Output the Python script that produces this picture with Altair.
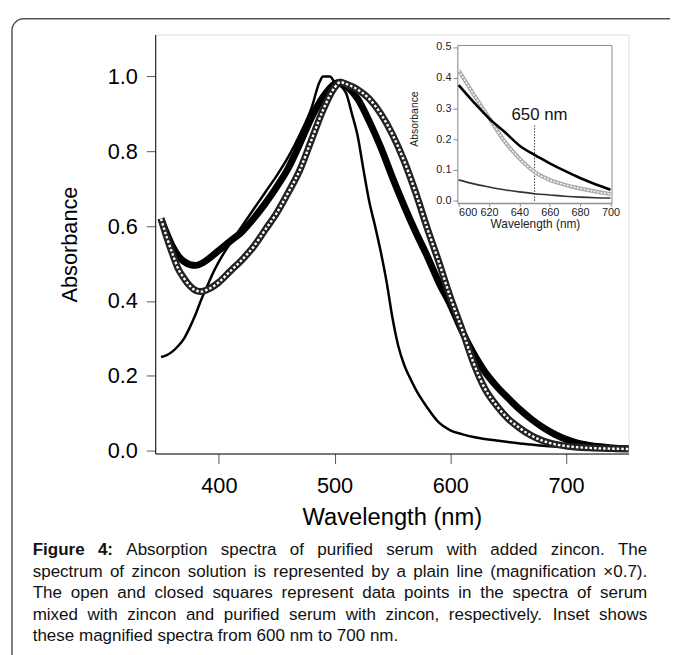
import altair as alt
import pandas as pd

# ---------------- main spectra ----------------
plain_wl = [350, 355, 360, 365, 370, 375, 380, 385, 390, 395, 400, 410, 420, 430, 440, 450, 460, 470, 480, 487,
            490, 496, 500, 505, 510, 515, 520, 525, 530, 535, 540, 545, 550, 555, 560, 565, 570, 580, 590, 600,
            610, 620, 630, 640, 650, 660, 670, 680, 690, 700, 720, 740, 754]
plain_abs = [0.25, 0.255, 0.265, 0.28, 0.30, 0.33, 0.365, 0.405, 0.44, 0.475, 0.505, 0.555, 0.60, 0.645, 0.69, 0.735,
             0.785, 0.845, 0.915, 0.985, 1.0, 1.0, 0.985, 0.975, 0.955, 0.90, 0.84, 0.75, 0.665, 0.60, 0.53, 0.45,
             0.355, 0.28, 0.23, 0.195, 0.164, 0.115, 0.075, 0.054, 0.044, 0.036, 0.031, 0.027, 0.023, 0.019, 0.016,
             0.013, 0.011, 0.01, 0.007, 0.005, 0.005]

closed_wl = [350, 355, 360, 365, 370, 375, 380, 385, 390, 400, 410, 420, 430, 440, 450, 460, 470, 480, 490, 500,
             505, 510, 520, 530, 540, 550, 560, 570, 580, 590, 600, 610, 620, 630, 640, 650, 660, 670, 680, 690,
             700, 710, 720, 730, 740, 754]
closed_abs = [0.62, 0.58, 0.545, 0.52, 0.505, 0.497, 0.495, 0.50, 0.51, 0.535, 0.56, 0.585, 0.62, 0.66, 0.705, 0.755,
              0.82, 0.89, 0.945, 0.98, 0.985, 0.975, 0.94, 0.88, 0.81, 0.73, 0.655, 0.585, 0.52, 0.45, 0.39, 0.32,
              0.26, 0.21, 0.172, 0.14, 0.11, 0.084, 0.062, 0.044, 0.03, 0.02, 0.014, 0.01, 0.007, 0.005]

open_wl = [350, 355, 360, 365, 370, 375, 380, 385, 390, 400, 410, 420, 430, 440, 450, 460, 470, 480, 490, 500,
           505, 510, 520, 530, 540, 550, 560, 570, 580, 590, 600, 610, 620, 630, 640, 650, 660, 670, 680, 690,
           700, 720, 740, 754]
open_abs = [0.62, 0.57, 0.525, 0.485, 0.46, 0.44, 0.428, 0.425, 0.43, 0.45, 0.48, 0.51, 0.545, 0.59, 0.635, 0.69,
            0.75, 0.83, 0.91, 0.97, 0.985, 0.98, 0.965, 0.94, 0.90, 0.845, 0.775, 0.69, 0.595, 0.505, 0.41, 0.325,
            0.235, 0.165, 0.12, 0.085, 0.06, 0.04, 0.026, 0.017, 0.012, 0.007, 0.005, 0.004]

main_x_ticks = [400, 500, 600, 700]
main_y_ticks = [0.0, 0.2, 0.4, 0.6, 0.8, 1.0]
main_x_domain = [345, 754]
main_y_domain = [-0.008, 1.112]

# ---------------- inset spectra ----------------
inset_wl = [600, 610, 620, 630, 640, 650, 660, 670, 680, 690, 700]
inset_open = [0.424, 0.345, 0.27, 0.195, 0.138, 0.094, 0.068, 0.052, 0.04, 0.03, 0.022]
inset_closed = [0.376, 0.32, 0.268, 0.225, 0.18, 0.149, 0.122, 0.097, 0.074, 0.054, 0.036]
inset_plain = [0.068, 0.055, 0.045, 0.036, 0.029, 0.023, 0.019, 0.015, 0.012, 0.01, 0.009]
inset_x_ticks = [600, 620, 640, 660, 680, 700]
inset_y_ticks = [0.0, 0.1, 0.2, 0.3, 0.4, 0.5]
inset_x_domain = [599.5, 701]
inset_y_domain = [-0.008, 0.505]
marker_wl = 650
marker_top = 0.245
marker_label = "650 nm"
marker_label_y = 0.28

caption_lines = [
    "Figure 4: Absorption spectra of purified serum with added zincon. The",
    "spectrum of zincon solution is represented by a plain line (magnification \u00d70.7).",
    "The open and closed squares represent data points in the spectra of serum",
    "mixed with zincon and purified serum with zincon, respectively. Inset shows",
    "these magnified spectra from 600 nm to 700 nm.",
]
bold_words = 2  # "Figure", "4:" are bold

FONT = "Liberation Sans"
W, H = 479, 424

df_plain = pd.DataFrame({"wl": plain_wl, "a": plain_abs})
df_closed = pd.DataFrame({"wl": closed_wl, "a": closed_abs})
df_open = pd.DataFrame({"wl": open_wl, "a": open_abs})

mx = alt.X("wl:Q", scale=alt.Scale(domain=main_x_domain, nice=False, zero=False),
           axis=alt.Axis(values=main_x_ticks, title="Wavelength (nm)", grid=False, tickSize=10,
                         tickColor="#555", domainColor="black", labelFontSize=22, labelColor="black",
                         labelPadding=12, titleFontSize=24, titleFontWeight="normal", titleColor="black",
                         titleY=65, titleBaseline="middle", labelFont=FONT, titleFont=FONT))
my = alt.Y("a:Q", scale=alt.Scale(domain=main_y_domain, nice=False, zero=False),
           axis=alt.Axis(values=main_y_ticks, format=".1f", title="Absorbance", grid=False, tickSize=9,
                         tickColor="#555", domainColor="black", labelFontSize=22, labelColor="black",
                         labelPadding=9, titleFontSize=22, titleFontWeight="normal", titleColor="black",
                         titleX=-87, titleY=212, titleAngle=270, titleAlign="center", titleBaseline="middle",
                         labelFont=FONT, titleFont=FONT))

plain = alt.Chart(df_plain).mark_line(color="black", strokeWidth=2.5, interpolate="monotone").encode(x=mx, y=my)
closed = alt.Chart(df_closed).mark_line(color="black", strokeWidth=7, interpolate="monotone",
                                        strokeJoin="round").encode(x=mx, y=my)
open_dark = alt.Chart(df_open).mark_line(color="#222", strokeWidth=7, interpolate="monotone",
                                         strokeJoin="round").encode(x=mx, y=my)
open_white = alt.Chart(df_open).mark_line(color="white", strokeWidth=2.4, strokeDash=[2.6, 2],
                                          interpolate="monotone").encode(x=mx, y=my)
main = alt.layer(plain, closed, open_dark, open_white)

# ---------------- inset ----------------
df_in = pd.DataFrame({"wl": inset_wl, "o": inset_open, "c": inset_closed, "p": inset_plain})
ix_scale = alt.Scale(domain=inset_x_domain, range=[306.3, 462.3], nice=False, zero=False)
iy_scale = alt.Scale(domain=inset_y_domain, range=[170.7, 11], nice=False, zero=False)
ix_axis = alt.Axis(values=inset_x_ticks, orient="bottom", offset=-253.3, grid=False, tickSize=3,
                   labelPadding=0, labelFontSize=11, labelColor="#222", tickColor="#888", domainColor="#888",
                   title="Wavelength (nm)", titleFontSize=12, titleFontWeight="normal", titleColor="#222",
                   titleY=21, titleBaseline="middle", labelFont=FONT, titleFont=FONT)
iy_axis = alt.Axis(values=inset_y_ticks, format=".1f", orient="left", offset=-306.3, grid=False, tickSize=5,
                   labelPadding=2, labelFontSize=11, labelColor="#222", tickColor="#888", domainColor="#888",
                   title="Absorbance", titleFontSize=10.5, titleFontWeight="normal", titleColor="#222",
                   titleX=-44, titleY=85, titleAngle=270, titleAlign="center", titleBaseline="middle",
                   labelFont=FONT, titleFont=FONT)

df_box = pd.DataFrame({"x0": [inset_x_domain[0]], "x1": [inset_x_domain[1]],
                       "y0": [inset_y_domain[0]], "y1": [inset_y_domain[1]]})
box = alt.Chart(df_box).mark_rect(fill="white", stroke="#888", strokeWidth=1).encode(
    x=alt.X("x0:Q", scale=ix_scale, axis=ix_axis), x2="x1:Q",
    y=alt.Y("y0:Q", scale=iy_scale, axis=iy_axis), y2="y1:Q")

ix = alt.X("wl:Q", scale=ix_scale, axis=ix_axis)
df_marker = pd.DataFrame({"wl": [marker_wl], "y0": [0.0], "y1": [marker_top],
                          "ty": [marker_label_y], "t": [marker_label]})
rule = alt.Chart(df_marker).mark_rule(color="black", strokeWidth=0.8, strokeDash=[1.5, 1.5]).encode(
    x=ix, y=alt.Y("y0:Q", scale=iy_scale, axis=iy_axis), y2="y1:Q")
label = alt.Chart(df_marker).mark_text(fontSize=17, font=FONT, color="#111", baseline="middle", dx=5).encode(
    x=ix, y=alt.Y("ty:Q", scale=iy_scale, axis=iy_axis), text="t:N")

i_open_dark = alt.Chart(df_in).mark_line(color="#aaaaaa", strokeWidth=4, interpolate="monotone").encode(
    x=ix, y=alt.Y("o:Q", scale=iy_scale, axis=iy_axis))
i_open_white = alt.Chart(df_in).mark_line(color="white", strokeWidth=1.4, strokeDash=[2, 1.5],
                                          interpolate="monotone").encode(
    x=ix, y=alt.Y("o:Q", scale=iy_scale, axis=iy_axis))
i_plain = alt.Chart(df_in).mark_line(color="#333", strokeWidth=1.6, interpolate="monotone").encode(
    x=ix, y=alt.Y("p:Q", scale=iy_scale, axis=iy_axis))
i_closed = alt.Chart(df_in).mark_line(color="black", strokeWidth=2.6, interpolate="monotone").encode(
    x=ix, y=alt.Y("c:Q", scale=iy_scale, axis=iy_axis))
inset = alt.layer(box, rule, label, i_open_dark, i_open_white, i_plain, i_closed)

# ---------------- frame & caption ----------------
frame = alt.Chart(pd.DataFrame({"k": [0]})).mark_rect(
    fill="white", fillOpacity=0, stroke="#555", strokeWidth=1.5, cornerRadius=12).encode(
    x=alt.value(-145), x2=alt.value(560), y=alt.value(-16), y2=alt.value(700))

# Arial / Liberation Sans advance widths (1/1000 em) for justified caption layout
_reg = {" ": 278, "(": 333, ")": 333, ",": 278, ".": 278, ":": 278, "\u00d7": 584}
_reg.update({d: 556 for d in "0123456789"})
_reg.update(dict(zip("abcdefghijklmnopqrstuvwxyz",
                     [556, 556, 500, 556, 556, 278, 556, 556, 222, 222, 500, 222, 833, 556, 556, 556, 556, 333,
                      500, 278, 556, 500, 722, 500, 500, 500])))
_reg.update({"A": 667, "F": 611, "I": 278, "T": 611})
_bold = {"F": 611, "i": 278, "g": 611, "u": 611, "r": 389, "e": 556, "4": 556, ":": 333}

CAP_FS = 17.2
cap_left, cap_right = -124, 498   # page 33 .. 655
cap_y0, cap_dy = 522, 21.7

def word_width(w, bold):
    tbl = _bold if bold else _reg
    return sum(tbl.get(ch, 556) for ch in w) * CAP_FS / 1000.0

cap_layers = []
for li, line in enumerate(caption_lines):
    words = line.split(" ")
    bolds = [li == 0 and wi < bold_words for wi in range(len(words))]
    widths = [word_width(w, b) for w, b in zip(words, bolds)]
    if li < len(caption_lines) - 1:
        gap = (cap_right - cap_left - sum(widths)) / (len(words) - 1)
    else:
        gap = 278 * CAP_FS / 1000.0
    xpos = cap_left
    for w, b, ww in zip(words, bolds, widths):
        cap_layers.append(
            alt.Chart(pd.DataFrame({"k": [0]})).mark_text(
                text=w, font=FONT, fontSize=CAP_FS, fontWeight="bold" if b else "normal",
                align="left", baseline="middle", color="#111").encode(
                x=alt.value(round(xpos, 2)), y=alt.value(cap_y0 + li * cap_dy)))
        xpos += ww + gap

chart = alt.layer(frame, main, inset, *cap_layers).resolve_scale(
    x="independent", y="independent").properties(
    width=W, height=H, padding={"left": 149, "top": 23, "right": 42, "bottom": 200},
    autosize=alt.AutoSizeParams(type="none")
).configure_view(stroke="#333", strokeWidth=1).configure(font=FONT, background="white")

chart.save("out.html", embed_options={"renderer": "svg", "actions": False})
